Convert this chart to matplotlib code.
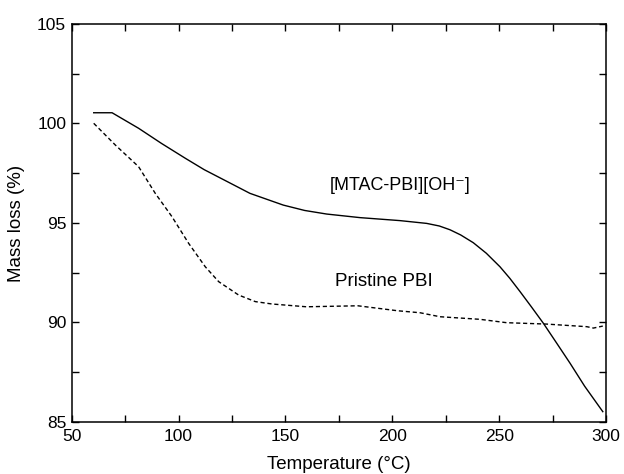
import matplotlib
matplotlib.use("Agg")
import matplotlib.pyplot as plt
from matplotlib.ticker import MultipleLocator

plt.rcParams['font.family'] = ['Liberation Sans', 'DejaVu Sans']

# [MTAC-PBI][OH-] (solid)
mtac_T = [60.3, 68.9, 81.3, 92, 103.2, 112, 121.9, 133.4, 143.7, 149, 159, 169.3, 184.9, 203.6, 216.1, 222,
          227, 232, 237.9, 244, 250.4, 255, 259.8, 265, 270.7, 277, 283.2, 290, 298.5]
mtac_m = [100.54, 100.54, 99.76, 99.0, 98.25, 97.68, 97.13, 96.49, 96.10, 95.90, 95.63, 95.45, 95.27, 95.12, 94.98, 94.85,
          94.66, 94.40, 94.01, 93.48, 92.80, 92.22, 91.55, 90.80, 89.96, 88.95, 87.95, 86.80, 85.52]

# Pristine PBI (dashed)
pbi_T = [60.3, 70.4, 81.3, 89.1, 96.9, 104.7, 112.5, 118.8, 128.1, 135.9, 143.7, 159.8, 183.9, 202.5, 213,
         222.3, 241, 253.5, 272.3, 291, 294.1, 298.5]
pbi_m = [100.01, 98.92, 97.83, 96.49, 95.32, 93.98, 92.80, 92.05, 91.38, 91.05, 90.93, 90.79, 90.84, 90.59, 90.49,
         90.29, 90.16, 89.99, 89.92, 89.79, 89.72, 89.82]

fig = plt.figure(figsize=(6.24, 4.74), dpi=100)
ax = fig.add_axes([71.7/624, 1-422/474, 534.3/624, 398/474])

ax.plot(mtac_T, mtac_m, color='black', lw=1.0)
ax.plot(pbi_T, pbi_m, color='black', lw=1.0, ls=(0, (3, 2)))

ax.set_xlim(50, 300)
ax.set_ylim(85, 105)
ax.xaxis.set_major_locator(MultipleLocator(50))
ax.xaxis.set_minor_locator(MultipleLocator(25))
ax.yaxis.set_major_locator(MultipleLocator(5))
ax.yaxis.set_minor_locator(MultipleLocator(2.5))
ax.tick_params(which='both', direction='in', top=True, right=True, labelsize=12.5, width=1.0)
ax.tick_params(which='major', length=5)
ax.tick_params(which='minor', length=5)
ax.tick_params(axis='x', pad=5)
ax.tick_params(axis='y', pad=4)
for s in ax.spines.values():
    s.set_linewidth(1.1)

ax.set_xlabel('Temperature (°C)', fontsize=13.5, labelpad=9)
ax.set_ylabel('Mass loss (%)', fontsize=13.5, labelpad=9)

ax.text(203.8, 96.9, '[MTAC-PBI][OH⁻]', fontsize=13, ha='center', va='center')
ax.text(195.9, 92.05, 'Pristine PBI', fontsize=13.5, ha='center', va='center')

fig.savefig('out.png', dpi=100)
